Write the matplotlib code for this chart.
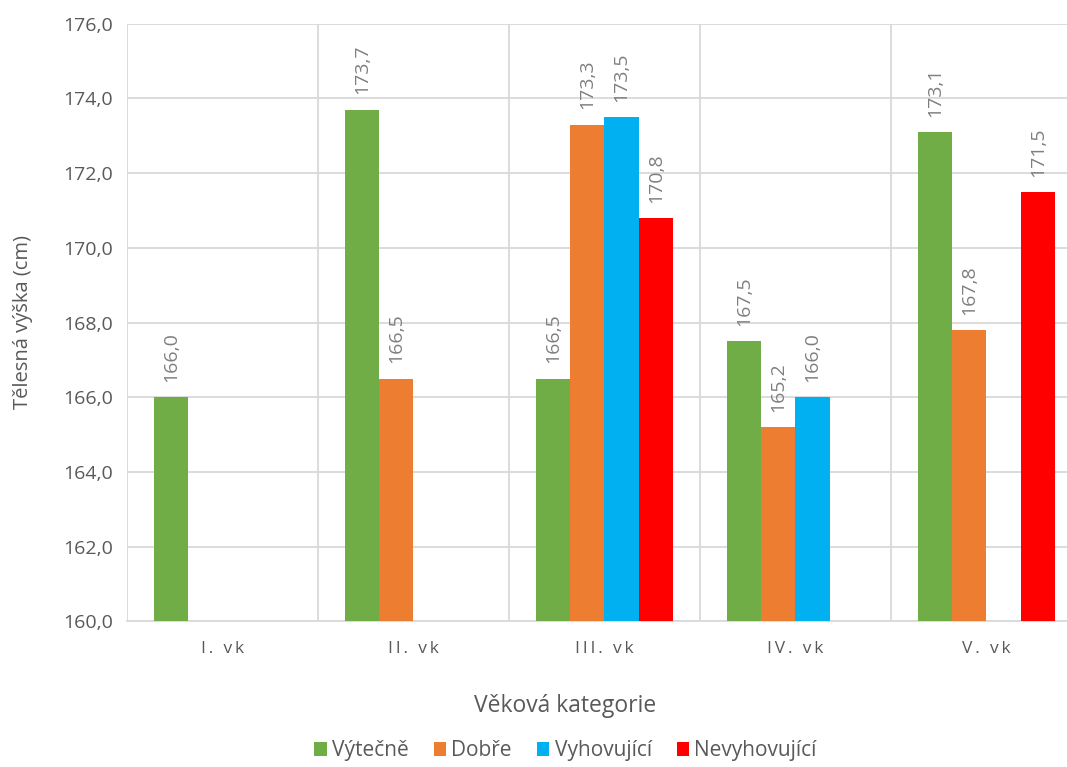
import numpy as np
import matplotlib.pyplot as plt
from matplotlib.ticker import FuncFormatter, MultipleLocator

categories = ['I. vk', 'II. vk', 'III. vk', 'IV. vk', 'V. vk']
series_names = ['Výtečně', 'Dobře', 'Vyhovující', 'Nevyhovující']
vytecne = [166.0, 173.7, 166.5, 167.5, 173.1]
dobre = [np.nan, 166.5, 173.3, 165.2, 167.8]
vyhovujici = [np.nan, np.nan, 173.5, 166.0, np.nan]
nevyhovujici = [np.nan, np.nan, 170.8, np.nan, 171.5]

colors = ['#70AD47', '#ED7D31', '#00B0F0', '#FF0000']
text_gray = '#595959'
grid_gray = '#D9D9D9'

plt.rcParams['font.family'] = ['Open Sans', 'DejaVu Sans']

fig = plt.figure(figsize=(10.67, 7.67), dpi=100)
ax = fig.add_axes([0.119, 0.190, 0.895, 0.779])

x = np.arange(len(categories))
w = 0.18
base = 160.0
for i, (name, vals, col) in enumerate(zip(series_names, [vytecne, dobre, vyhovujici, nevyhovujici], colors)):
    vals = np.array(vals, dtype=float)
    pos = x + (i - 1.5) * w
    mask = ~np.isnan(vals)
    ax.bar(pos[mask], vals[mask] - base, bottom=base, width=w, color=col, label=name, zorder=3)
    # popisky hodnot nad sloupci
    for px, v in zip(pos[mask], vals[mask]):
        ax.annotate(f'{v:.1f}'.replace('.', ','), (px, v), xytext=(0, 11),
                    textcoords='offset points', rotation=90, ha='center', va='bottom',
                    fontsize=14, color='#7F7F7F')

ax.set_xlim(-0.5, len(categories) - 0.5)
ax.set_ylim(160, 176)
ax.yaxis.set_major_locator(MultipleLocator(2))
ax.yaxis.set_major_formatter(FuncFormatter(lambda v, p: f'{v:.1f}'.replace('.', ',')))
ax.set_xticks(x)
# prostrkovane popisky jako v Excelu
ax.set_xticklabels(['\u2009'.join(c) for c in categories])
ax.set_xticks(np.arange(-0.5, len(categories), 1), minor=True)
ax.tick_params(axis='both', which='both', length=0, colors=text_gray)
ax.tick_params(axis='y', labelsize=14, pad=10)
ax.tick_params(axis='x', labelsize=12.5, pad=14)
ax.grid(axis='y', which='major', color=grid_gray, linewidth=1.3, zorder=0)
ax.grid(axis='x', which='minor', color=grid_gray, linewidth=1.3, zorder=0)
for s in ['top', 'right', 'left']:
    ax.spines[s].set_visible(False)
ax.spines['bottom'].set_color(grid_gray)
ax.spines['bottom'].set_linewidth(1.3)

fig.text(0.022, 0.580, 'Tělesná výška (cm)', rotation=90, ha='center', va='center',
         fontsize=14.5, color=text_gray)
fig.text(0.530, 0.080, 'Věková kategorie', ha='center', va='center',
         fontsize=16.5, color=text_gray)
fig.legend(loc='center', bbox_to_anchor=(0.530, 0.021), ncol=4, frameon=False,
           fontsize=15, handlelength=0.6, handleheight=0.7, handletextpad=0.25,
           columnspacing=1.2, labelcolor=text_gray)

fig.savefig('out.png', dpi=100)
